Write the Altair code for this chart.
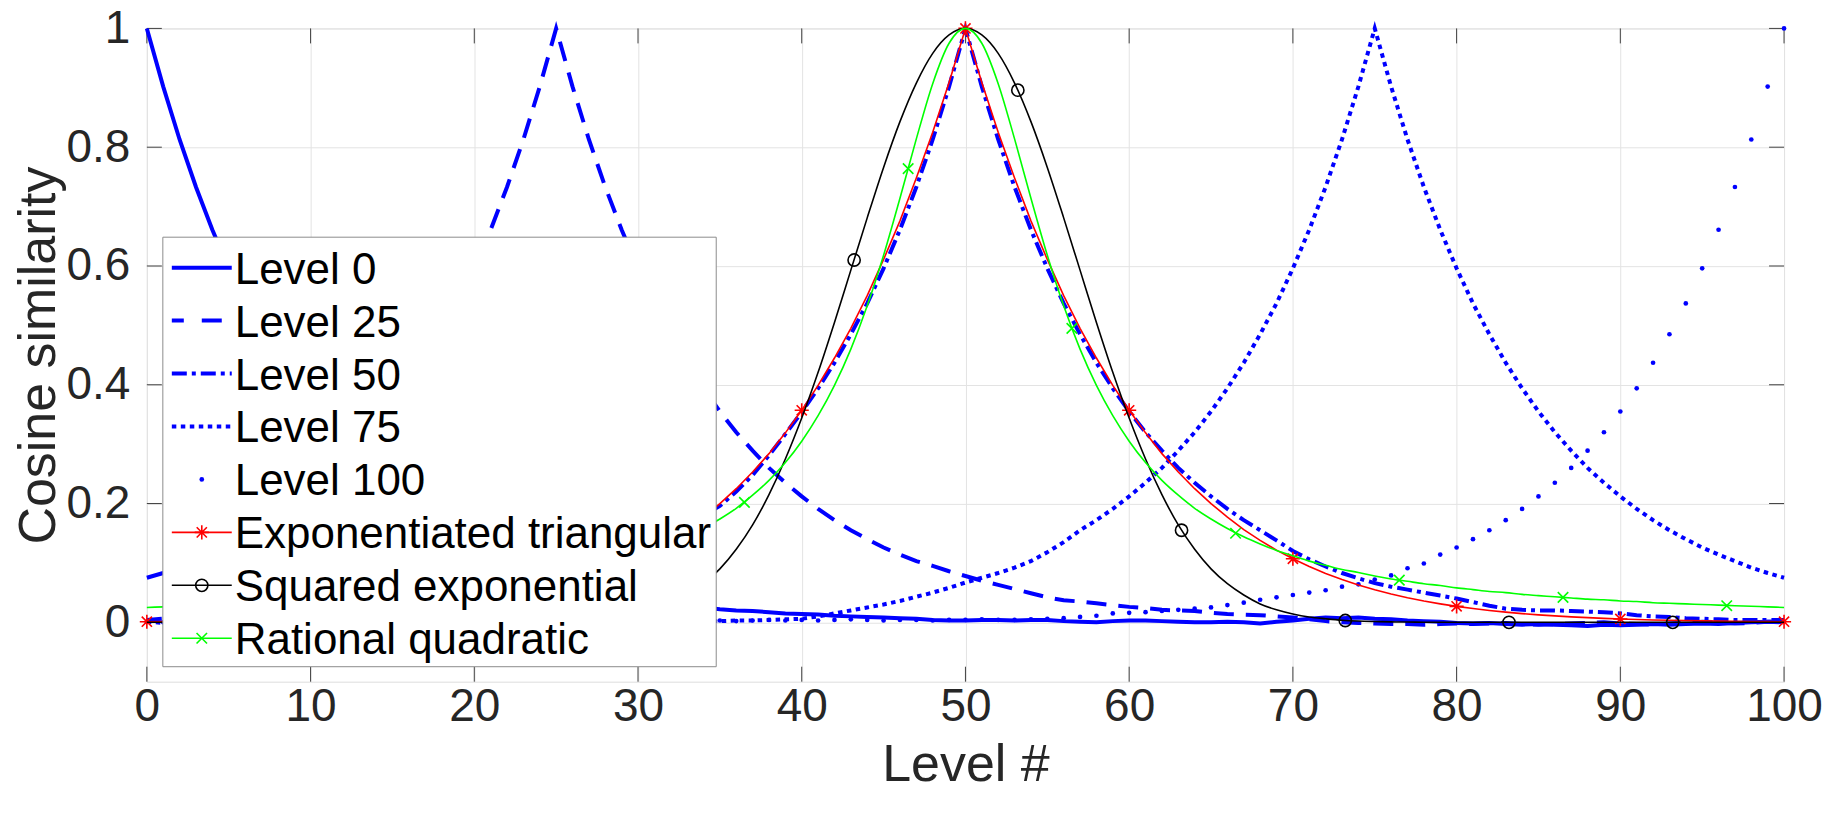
import altair as alt
import pandas as pd

# ---------------- data ----------------
levels_x = list(range(101))

level_0 = [1.000, 0.902, 0.813, 0.733, 0.661, 0.596, 0.537, 0.485, 0.437, 0.394,
           0.355, 0.320, 0.289, 0.260, 0.235, 0.212, 0.191, 0.172, 0.155, 0.140,
           0.126, 0.114, 0.103, 0.092, 0.083, 0.075, 0.068, 0.061, 0.055, 0.049,
           0.043, 0.038, 0.033, 0.029, 0.025, 0.022, 0.020, 0.019, 0.017, 0.015,
           0.014, 0.013, 0.011, 0.010, 0.009, 0.008, 0.007, 0.006, 0.004, 0.003,
           0.003, 0.004, 0.004, 0.003, 0.004, 0.004, 0.002, 0.001, 0.000, 0.002,
           0.003, 0.003, 0.002, 0.001, 0.000, 0.000, 0.001, 0.000, -0.002, 0.001,
           0.003, 0.006, 0.008, 0.007, 0.008, 0.006, 0.005, 0.003, 0.002, 0.001,
           -0.001, -0.002, -0.001, -0.003, -0.004, -0.003, -0.004, -0.005, -0.006, -0.004,
           -0.005, -0.004, -0.003, -0.004, -0.003, -0.002, -0.003, -0.001, 0.000, 0.001,
           0.000]

level_25 = [0.075, 0.083, 0.092, 0.103, 0.114, 0.126, 0.140, 0.155, 0.172, 0.191,
            0.212, 0.235, 0.260, 0.289, 0.320, 0.355, 0.394, 0.437, 0.485, 0.537,
            0.596, 0.661, 0.733, 0.813, 0.902, 1.000, 0.902, 0.813, 0.733, 0.661,
            0.596, 0.537, 0.485, 0.437, 0.394, 0.355, 0.320, 0.289, 0.260, 0.235,
            0.212, 0.191, 0.172, 0.155, 0.140, 0.126, 0.114, 0.103, 0.095, 0.086,
            0.078, 0.070, 0.063, 0.056, 0.049, 0.042, 0.037, 0.035, 0.032, 0.029,
            0.026, 0.024, 0.021, 0.020, 0.019, 0.016, 0.014, 0.013, 0.012, 0.010,
            0.008, 0.005, 0.002, 0.000, -0.001, -0.002, -0.003, -0.003, -0.004, -0.003,
            -0.002, -0.003, -0.002, -0.001, -0.003, -0.004, -0.003, -0.002, -0.001, 0.000,
            -0.002, -0.003, -0.004, -0.002, -0.001, 0.001, 0.000, -0.002, -0.001, 0.001,
            0.002]

level_50 = [0.004, 0.006, 0.007, 0.006, 0.008, 0.009, 0.010, 0.011, 0.012, 0.014,
            0.016, 0.018, 0.020, 0.022, 0.024, 0.027, 0.030, 0.033, 0.036, 0.040,
            0.045, 0.050, 0.055, 0.061, 0.068, 0.075, 0.083, 0.092, 0.103, 0.114,
            0.126, 0.140, 0.152, 0.165, 0.180, 0.196, 0.220, 0.248, 0.281, 0.317,
            0.354, 0.394, 0.437, 0.485, 0.537, 0.596, 0.661, 0.733, 0.813, 0.902,
            1.000, 0.902, 0.813, 0.733, 0.661, 0.596, 0.537, 0.485, 0.437, 0.394,
            0.355, 0.320, 0.289, 0.260, 0.235, 0.212, 0.191, 0.172, 0.155, 0.138,
            0.120, 0.106, 0.094, 0.083, 0.074, 0.066, 0.060, 0.055, 0.050, 0.045,
            0.040, 0.034, 0.028, 0.023, 0.021, 0.020, 0.020, 0.019, 0.018, 0.017,
            0.015, 0.012, 0.010, 0.009, 0.007, 0.006, 0.005, 0.004, 0.004, 0.004,
            0.004]

level_75 = [0.001, -0.001, 0.000, 0.002, 0.001, -0.001, 0.000, 0.001, 0.002, 0.000,
            -0.001, 0.001, 0.002, 0.001, 0.000, 0.001, 0.002, 0.003, 0.002, 0.001,
            0.002, 0.003, 0.002, 0.001, 0.002, 0.003, 0.004, 0.003, 0.002, 0.003,
            0.002, 0.003, 0.003, 0.002, 0.002, 0.002, 0.003, 0.003, 0.004, 0.005,
            0.006, 0.010, 0.015, 0.020, 0.025, 0.030, 0.036, 0.043, 0.050, 0.058,
            0.067, 0.075, 0.083, 0.092, 0.103, 0.118, 0.135, 0.155, 0.172, 0.191,
            0.212, 0.235, 0.260, 0.289, 0.320, 0.355, 0.394, 0.437, 0.485, 0.537,
            0.596, 0.661, 0.733, 0.813, 0.902, 1.000, 0.902, 0.813, 0.733, 0.661,
            0.596, 0.537, 0.485, 0.437, 0.394, 0.355, 0.320, 0.289, 0.260, 0.235,
            0.212, 0.191, 0.172, 0.155, 0.140, 0.126, 0.114, 0.103, 0.092, 0.083,
            0.075]

level_100 = [0.001, 0.000, 0.002, 0.001, 0.003, 0.002, 0.001, 0.002, 0.003, 0.002,
             0.001, 0.002, 0.003, 0.002, 0.001, 0.002, 0.003, 0.004, 0.003, 0.002,
             0.003, 0.002, 0.001, 0.002, 0.003, 0.002, 0.004, 0.003, 0.002, 0.003,
             0.004, 0.003, 0.002, 0.003, 0.004, 0.003, 0.002, 0.003, 0.004, 0.003,
             0.004, 0.003, 0.004, 0.005, 0.004, 0.003, 0.004, 0.004, 0.003, 0.004,
             0.004, 0.005, 0.004, 0.004, 0.005, 0.006, 0.007, 0.009, 0.011, 0.015,
             0.016, 0.017, 0.019, 0.021, 0.023, 0.025, 0.029, 0.033, 0.038, 0.042,
             0.046, 0.050, 0.054, 0.060, 0.064, 0.072, 0.079, 0.091, 0.099, 0.114,
             0.126, 0.140, 0.155, 0.172, 0.191, 0.212, 0.235, 0.260, 0.289, 0.320,
             0.355, 0.394, 0.437, 0.485, 0.537, 0.596, 0.661, 0.733, 0.813, 0.902,
             1.000]

exp_triangular = [0.0010, 0.0012, 0.0014, 0.0017, 0.0020, 0.0024, 0.0029, 0.0034, 0.0040, 0.0048,
                  0.0057, 0.0067, 0.0079, 0.0092, 0.0108, 0.0126, 0.0147, 0.0172, 0.0200, 0.0232,
                  0.0269, 0.0311, 0.0359, 0.0414, 0.0477, 0.0548, 0.0628, 0.0719, 0.0822, 0.0939,
                  0.107, 0.1215, 0.138, 0.156, 0.177, 0.200, 0.225, 0.253, 0.284, 0.319,
                  0.357, 0.399, 0.445, 0.495, 0.550, 0.611, 0.676, 0.748, 0.825, 0.909,
                  1.000, 0.909, 0.825, 0.748, 0.676, 0.611, 0.550, 0.495, 0.445, 0.399,
                  0.357, 0.319, 0.284, 0.253, 0.225, 0.200, 0.177, 0.156, 0.138, 0.1215,
                  0.107, 0.0939, 0.0822, 0.0719, 0.0628, 0.0548, 0.0477, 0.0414, 0.0359, 0.0311,
                  0.0269, 0.0232, 0.0200, 0.0172, 0.0147, 0.0126, 0.0108, 0.0092, 0.0079, 0.0067,
                  0.0057, 0.0048, 0.0040, 0.0034, 0.0029, 0.0024, 0.0020, 0.0017, 0.0014, 0.0012,
                  0.0010]

squared_exp = [0.0, 0.0, 0.0, 0.0, 0.0, 0.0, 0.0, 0.0, 0.0, 0.0,
               0.0, 0.0, 0.0, 0.0, 0.0, 0.0, 0.0, 0.0, 0.0, 0.0,
               0.0, 0.0001, 0.0002, 0.0004, 0.0007, 0.0013, 0.0021, 0.0035, 0.006, 0.009,
               0.014, 0.021, 0.031, 0.046, 0.065, 0.090, 0.123, 0.164, 0.215, 0.275,
               0.344, 0.421, 0.505, 0.593, 0.681, 0.766, 0.843, 0.908, 0.958, 0.989,
               1.000, 0.989, 0.958, 0.908, 0.843, 0.766, 0.681, 0.593, 0.505, 0.421,
               0.344, 0.275, 0.215, 0.164, 0.123, 0.090, 0.065, 0.046, 0.031, 0.021,
               0.014, 0.009, 0.006, 0.0035, 0.0021, 0.0013, 0.0007, 0.0004, 0.0002, 0.0001,
               0.0, 0.0, 0.0, 0.0, 0.0, 0.0, 0.0, 0.0, 0.0, 0.0,
               0.0, 0.0, 0.0, 0.0, 0.0, 0.0, 0.0, 0.0, 0.0, 0.0,
               0.0]

rational_quad = [0.025, 0.026, 0.027, 0.028, 0.029, 0.030, 0.031, 0.032, 0.033, 0.035,
                 0.036, 0.038, 0.039, 0.041, 0.043, 0.045, 0.047, 0.050, 0.052, 0.055,
                 0.058, 0.062, 0.065, 0.069, 0.073, 0.078, 0.084, 0.089, 0.096, 0.103,
                 0.112, 0.121, 0.132, 0.144, 0.158, 0.174, 0.192, 0.214, 0.239, 0.269,
                 0.305, 0.348, 0.399, 0.460, 0.533, 0.618, 0.714, 0.814, 0.907, 0.975,
                 1.000, 0.975, 0.907, 0.814, 0.714, 0.618, 0.533, 0.460, 0.399, 0.348,
                 0.305, 0.269, 0.239, 0.214, 0.192, 0.174, 0.158, 0.144, 0.132, 0.121,
                 0.112, 0.103, 0.096, 0.089, 0.084, 0.078, 0.073, 0.069, 0.065, 0.062,
                 0.058, 0.055, 0.052, 0.050, 0.047, 0.045, 0.043, 0.041, 0.039, 0.038,
                 0.036, 0.035, 0.033, 0.032, 0.031, 0.030, 0.029, 0.028, 0.027, 0.026,
                 0.025]

# marker positions / values
tri_marker_x = [0, 10, 20, 30, 40, 50, 60, 70, 80, 90, 100]
se_marker_x = [3.2, 13.2, 23.2, 33.2, 43.2, 53.2, 63.2, 73.2, 83.2, 93.2]
se_marker_y = [0.0, 0.0, 0.0005, 0.049, 0.610, 0.896, 0.155, 0.003, 0.0, 0.0]
rq_marker_x = [6.5, 16.5, 26.5, 36.5, 46.5, 56.5, 66.5, 76.5, 86.5, 96.5]
rq_marker_y = [0.031, 0.049, 0.086, 0.202, 0.764, 0.495, 0.150, 0.071, 0.042, 0.028]

x_ticks = [0, 10, 20, 30, 40, 50, 60, 70, 80, 90, 100]
y_ticks = [0, 0.2, 0.4, 0.6, 0.8, 1.0]

legend_labels = ["Level 0", "Level 25", "Level 50", "Level 75", "Level 100",
                 "Exponentiated triangular", "Squared exponential", "Rational quadratic"]

for arr in [level_0, level_25, level_50, level_75, level_100, exp_triangular, squared_exp, rational_quad]:
    assert len(arr) == 101, len(arr)

# ---------------- styling ----------------
W, H = 1639, 654
FONT = "Liberation Sans"
BLUE = "#0000ff"
RED = "#ff0000"
GREEN = "#00ff00"
BLACK = "#000000"
TICK_COLOR = "#262626"

STAR = "M-1,0L1,0M0,-1L0,1M-0.72,-0.72L0.72,0.72M-0.72,0.72L0.72,-0.72"
XMARK = "M-1,-1L1,1M-1,1L1,-1"

x_axis = alt.Axis(values=x_ticks, grid=True, gridColor="#e3e3e3", gridWidth=1,
                  domain=False, ticks=False, tickSize=0,
                  labelFont=FONT, labelFontSize=46, labelColor=TICK_COLOR,
                  labelPadding=39, labelBaseline="alphabetic", labelFlush=False,
                  labelOverlap=False,
                  title="Level #", titleFont=FONT, titleFontSize=52,
                  titleFontWeight="normal", titleColor=TICK_COLOR,
                  titleX=W / 2, titleY=99, titleAlign="center",
                  titleBaseline="alphabetic")
y_axis = alt.Axis(values=y_ticks, format="~g", grid=True, gridColor="#e3e3e3",
                  gridWidth=1, domain=False, ticks=False, tickSize=0,
                  labelFont=FONT, labelFontSize=46, labelColor=TICK_COLOR,
                  labelPadding=17, labelBaseline="middle", labelFlush=False,
                  labelOverlap=False,
                  title="Cosine similarity", titleFont=FONT, titleFontSize=52,
                  titleFontWeight="normal", titleColor=TICK_COLOR,
                  titleAngle=270, titleX=-92, titleY=H / 2, titleAlign="center",
                  titleBaseline="alphabetic")

xscale = alt.Scale(domain=[0, 100], nice=False, zero=False)
yscale = alt.Scale(domain=[-0.1, 1], nice=False, zero=False)
X = alt.X("x:Q", scale=xscale, axis=x_axis)
Y = alt.Y("y:Q", scale=yscale, axis=y_axis)


def df_of(xv, yv):
    return pd.DataFrame({"x": xv, "y": yv})


layers = []

# inward tick marks (box style)
tx = pd.DataFrame({"x": x_ticks})
ty = pd.DataFrame({"y": y_ticks})
layers.append(alt.Chart(tx).mark_rule(color="#404040", strokeWidth=1).encode(
    x=X, y=alt.value(H), y2=alt.value(H - 15)))
layers.append(alt.Chart(tx).mark_rule(color="#404040", strokeWidth=1).encode(
    x=X, y=alt.value(0), y2=alt.value(15)))
layers.append(alt.Chart(ty).mark_rule(color="#404040", strokeWidth=1).encode(
    y=Y, x=alt.value(0), x2=alt.value(15)))
layers.append(alt.Chart(ty).mark_rule(color="#404040", strokeWidth=1).encode(
    y=Y, x=alt.value(W), x2=alt.value(W - 15)))

DASH25 = [20, 12]
DASH50 = [15, 5, 4, 5]
DOT75 = [4.5, 4.5]

layers.append(alt.Chart(df_of(levels_x, level_0)).mark_line(
    color=BLUE, strokeWidth=4).encode(x=X, y=Y))
layers.append(alt.Chart(df_of(levels_x, level_25)).mark_line(
    color=BLUE, strokeWidth=4, strokeDash=DASH25).encode(x=X, y=Y))
layers.append(alt.Chart(df_of(levels_x, level_50)).mark_line(
    color=BLUE, strokeWidth=4, strokeDash=DASH50).encode(x=X, y=Y))
layers.append(alt.Chart(df_of(levels_x, level_75)).mark_line(
    color=BLUE, strokeWidth=4, strokeDash=DOT75).encode(x=X, y=Y))
layers.append(alt.Chart(df_of(levels_x, level_100)).mark_circle(
    color=BLUE, size=22, opacity=1).encode(x=X, y=Y))

# kernels
layers.append(alt.Chart(df_of(levels_x, exp_triangular)).mark_line(
    color=RED, strokeWidth=1.6).encode(x=X, y=Y))
layers.append(alt.Chart(df_of(tri_marker_x, [exp_triangular[i] for i in tri_marker_x])).mark_point(
    shape=STAR, size=200, stroke=RED, strokeWidth=1.6, filled=False, opacity=1).encode(x=X, y=Y))
layers.append(alt.Chart(df_of(levels_x, squared_exp)).mark_line(
    color=BLACK, strokeWidth=1.6, interpolate="monotone").encode(x=X, y=Y))
layers.append(alt.Chart(df_of(se_marker_x, se_marker_y)).mark_point(
    shape="circle", size=150, stroke=BLACK, strokeWidth=1.6, filled=False, opacity=1).encode(x=X, y=Y))
layers.append(alt.Chart(df_of(levels_x, rational_quad)).mark_line(
    color=GREEN, strokeWidth=1.6, interpolate="monotone").encode(x=X, y=Y))
layers.append(alt.Chart(df_of(rq_marker_x, rq_marker_y)).mark_point(
    shape=XMARK, size=110, stroke=GREEN, strokeWidth=1.6, filled=False, opacity=1).encode(x=X, y=Y))

# ---------------- manual legend ----------------
one = pd.DataFrame({"k": [0]})
LX0, LX1, LY0, LY1 = 16, 570, 209, 639
layers.append(alt.Chart(one).mark_rect(fill="white", stroke="#8c8c8c", strokeWidth=1).encode(
    x=alt.value(LX0), x2=alt.value(LX1), y=alt.value(LY0), y2=alt.value(LY1)))

row0, step = 239.5, 53
sym_x0, sym_x1, sym_c, text_x = 25, 85, 55, 88
line_styles = [
    dict(color=BLUE, strokeWidth=4),
    dict(color=BLUE, strokeWidth=4, strokeDash=[12, 18, 20, 12]),
    dict(color=BLUE, strokeWidth=4, strokeDash=DASH50),
    dict(color=BLUE, strokeWidth=4, strokeDash=DOT75),
    None,
    dict(color=RED, strokeWidth=1.6),
    dict(color=BLACK, strokeWidth=1.6),
    dict(color=GREEN, strokeWidth=1.6),
]
for i, lab in enumerate(legend_labels):
    yy = row0 + step * i
    st = line_styles[i]
    if st is not None:
        layers.append(alt.Chart(one).mark_rule(**st).encode(
            x=alt.value(sym_x0), x2=alt.value(sym_x1), y=alt.value(yy)))
    layers.append(alt.Chart(one).mark_text(
        align="left", baseline="alphabetic", font=FONT, fontSize=44, color="black",
        text=lab).encode(x=alt.value(text_x), y=alt.value(yy + 16)))

layers.append(alt.Chart(one).mark_circle(color=BLUE, size=22, opacity=1).encode(
    x=alt.value(sym_c), y=alt.value(row0 + step * 4)))
layers.append(alt.Chart(one).mark_point(
    shape=STAR, size=200, stroke=RED, strokeWidth=1.6, filled=False, opacity=1).encode(
    x=alt.value(sym_c), y=alt.value(row0 + step * 5)))
layers.append(alt.Chart(one).mark_point(
    shape="circle", size=150, stroke=BLACK, strokeWidth=1.6, filled=False, opacity=1).encode(
    x=alt.value(sym_c), y=alt.value(row0 + step * 6)))
layers.append(alt.Chart(one).mark_point(
    shape=XMARK, size=110, stroke=GREEN, strokeWidth=1.6, filled=False, opacity=1).encode(
    x=alt.value(sym_c), y=alt.value(row0 + step * 7)))

chart = alt.layer(*layers).properties(
    width=W, height=H,
    padding={"left": 139, "top": 20, "right": 40, "bottom": 130},
    autosize=alt.AutoSizeParams(type="none"),
).configure_view(stroke="#8a8a8a", strokeWidth=1).configure(background="white")

chart.save("out.html", embed_options={"renderer": "svg", "actions": False})
